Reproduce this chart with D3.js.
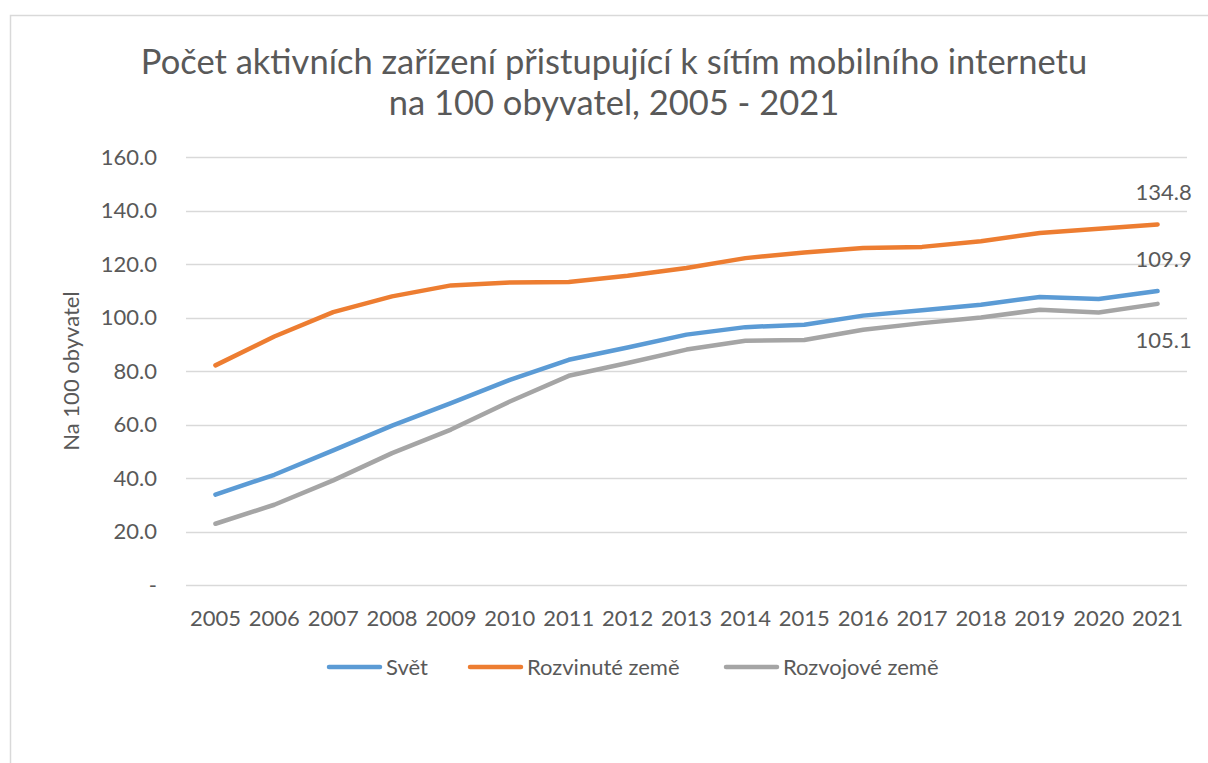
<!DOCTYPE html>
<html>
<head>
<meta charset="utf-8">
<script src="https://cdn.jsdelivr.net/npm/d3@7"></script>
<style>
  body { margin: 0; background: #fff; }
  text { font-family: Lato, "Open Sans", sans-serif; fill: #595959; }
</style>
</head>
<body>
<div id="chart"></div>
<script>
var years = [2005, 2006, 2007, 2008, 2009, 2010, 2011, 2012, 2013, 2014, 2015, 2016, 2017, 2018, 2019, 2020, 2021];
var svet = [33.8, 41.2, 50.3, 59.6, 68.0, 76.7, 84.2, 88.8, 93.6, 96.4, 97.3, 100.7, 102.7, 104.8, 107.7, 106.9, 109.9];
var rozvinute = [82.1, 92.9, 102.0, 107.9, 112.0, 113.1, 113.3, 115.6, 118.5, 122.2, 124.3, 126.0, 126.4, 128.5, 131.6, 133.2, 134.8];
var rozvojove = [22.9, 30.0, 39.1, 49.3, 58.1, 68.6, 78.2, 83.0, 88.0, 91.3, 91.6, 95.4, 97.9, 100.0, 102.9, 101.9, 105.1];
var seriesNames = ["Svět", "Rozvinuté země", "Rozvojové země"];
var yTicks = [0, 20, 40, 60, 80, 100, 120, 140, 160];

var colors = ["#5b9bd5", "#ed7d31", "#a5a5a5"];
var series = [svet, rozvinute, rozvojove];

var width = 1208, height = 763;
var margin = { left: 186, right: 21, top: 157, bottom: 178 };

var svg = d3.select("#chart").append("svg")
  .attr("width", width)
  .attr("height", height);

// chart border
svg.append("rect")
  .attr("x", 10.5).attr("y", 15.5)
  .attr("width", 1220).attr("height", 800)
  .attr("fill", "none")
  .attr("stroke", "#d9d9d9")
  .attr("stroke-width", 1.5);

var x = d3.scaleBand()
  .domain(years)
  .range([margin.left, width - margin.right]);

var y = d3.scaleLinear()
  .domain([0, 160])
  .range([height - margin.bottom, margin.top]);

// gridlines
svg.append("g")
  .selectAll("line")
  .data(yTicks)
  .enter().append("line")
  .attr("x1", margin.left)
  .attr("x2", width - margin.right)
  .attr("y1", function (d) { return Math.round(y(d)) + 0.5; })
  .attr("y2", function (d) { return Math.round(y(d)) + 0.5; })
  .attr("stroke", "#d9d9d9")
  .attr("stroke-width", 1.5);

// y axis labels
var yAxis = d3.axisLeft(y)
  .tickValues(yTicks)
  .tickSize(0)
  .tickPadding(29)
  .tickFormat(function (d) { return d === 0 ? "-" : d3.format(".1f")(d); });

var gy = svg.append("g")
  .attr("transform", "translate(" + margin.left + ",0)")
  .call(yAxis);
gy.select(".domain").remove();
gy.selectAll("text").style("font-size", "22px").attr("fill", "#595959");

// x axis labels
var xAxis = d3.axisBottom(x).tickSize(0).tickPadding(25);
var gx = svg.append("g")
  .attr("transform", "translate(0," + (height - margin.bottom) + ")")
  .call(xAxis);
gx.select(".domain").remove();
gx.selectAll("text").style("font-size", "22px").attr("fill", "#595959");

// lines
var line = d3.line()
  .x(function (d, i) { return x(years[i]) + x.bandwidth() / 2; })
  .y(function (d) { return y(d); });

svg.append("g")
  .selectAll("path")
  .data(series)
  .enter().append("path")
  .attr("d", function (d) { return line(d); })
  .attr("fill", "none")
  .attr("stroke", function (d, i) { return colors[i]; })
  .attr("stroke-width", 4.5)
  .attr("stroke-linecap", "round")
  .attr("stroke-linejoin", "round");

// end labels
var last = years.length - 1;
var labelOffsets = [-32, -32, 36];
svg.append("g")
  .selectAll("text")
  .data(series)
  .enter().append("text")
  .attr("x", x(years[last]) + x.bandwidth() / 2 + 6)
  .attr("y", function (d, i) { return y(d[last]) + labelOffsets[i]; })
  .attr("dy", "0.35em")
  .attr("text-anchor", "middle")
  .style("font-size", "22px")
  .text(function (d) { return d3.format(".1f")(d[last]); });

// title
var title = svg.append("text")
  .attr("x", 614)
  .attr("text-anchor", "middle")
  .style("font-size", "34.5px");
title.append("tspan").attr("x", 614).attr("y", 74)
  .text("Počet aktivních zařízení přistupující k sítím mobilního internetu");
title.append("tspan").attr("x", 614).attr("y", 115)
  .text("na 100 obyvatel, 2005 - 2021");

// y axis title
svg.append("text")
  .attr("transform", "translate(79," + y(80) + ") rotate(-90)")
  .attr("text-anchor", "middle")
  .style("font-size", "22px")
  .text("Na 100 obyvatel");

// legend
var legendX = [327, 468, 724];
var legend = svg.append("g")
  .selectAll("g")
  .data(seriesNames)
  .enter().append("g")
  .attr("transform", function (d, i) { return "translate(" + legendX[i] + ",667)"; });

legend.append("line")
  .attr("x1", 2).attr("x2", 53)
  .attr("stroke", function (d, i) { return colors[i]; })
  .attr("stroke-width", 4.5)
  .attr("stroke-linecap", "round");

legend.append("text")
  .attr("x", 59)
  .attr("dy", "0.35em")
  .style("font-size", "22px")
  .text(function (d) { return d; });
</script>
</body>
</html>
